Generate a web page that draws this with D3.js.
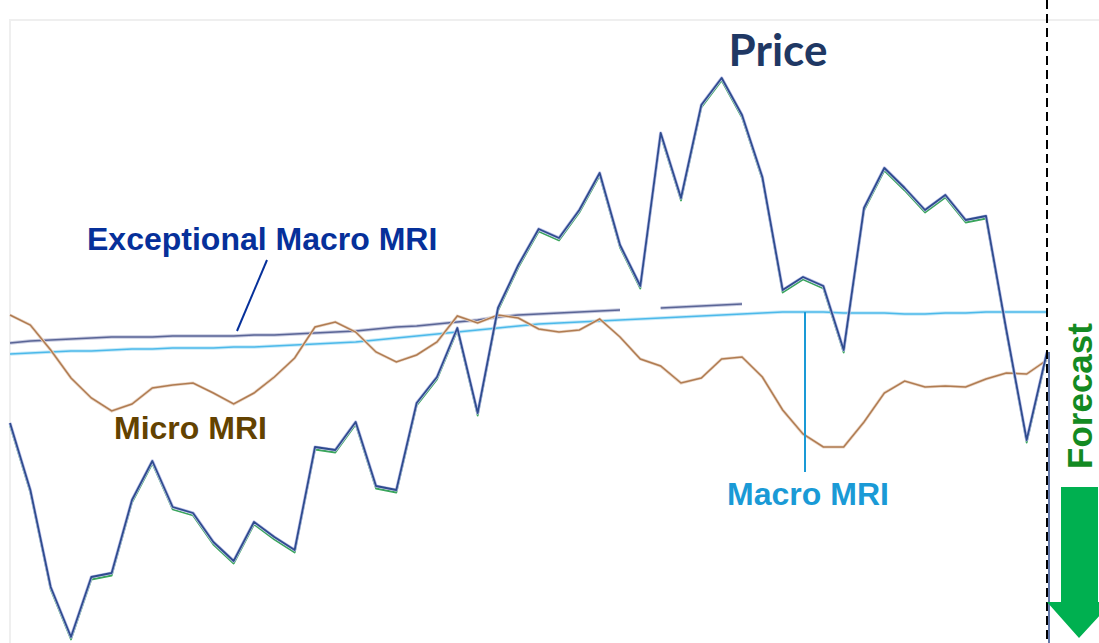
<!DOCTYPE html>
<html>
<head>
<meta charset="utf-8">
<title>Price and MRI</title>
<script src="https://d3js.org/d3.v7.min.js"></script>
<style>
  body { margin: 0; background: #fff; }
  svg { display: block; }
</style>
</head>
<body>
<div id="chart"></div>
<script>
// values, one per period (52 periods)
const price = [217,150,53,3,63,67,140,179,133,127,98,79,118,103,90,193,190,218,154,150,
  237,263,312,227,332,375,411,402,430,467,395,354,507,442,535,562,525,463,350,363,
  354,290,432,472,452,430,445,420,424,310,200,288];
const microMRI = [325,315,290,262,242,229,236,252,255,257,247,236,247,263,282,313,318,308,288,278,
  285,298,324,317,325,322,311,308,310,321,303,281,274,257,262,281,283,263,230,206,
  193,193,218,247,259,253,254,253,261,267,266,280];
const macroMRI = [286,287,288,289,289,290,291,291,292,292,292,293,293,294,295,296,297,298,300,302,
  304,306,308,310,312,314,316,317,318,319,320,321,322,323,324,325,326,327,328,328,
  328,327,327,327,326,326,327,327,328,328,328,328];
const exceptionalMRI = [297,299,300,301,302,303,303,303,304,304,304,304,305,305,306,307,308,309,311,313,
  314,316,318,320,323,325,326,327,328,329,330,null,332,333,334,335,336];
const forecastAt = 51;
const macroMarkAt = 39;

const W = 1099, H = 643;
const svg = d3.select("#chart").append("svg")
    .attr("width", W).attr("height", H);

const x = d3.scaleLinear().domain([0, 51]).range([10, 1047]);
const y = d3.scaleLinear().domain([0, 620]).range([640, 20]);

// faint plot frame
svg.append("path")
    .attr("d", "M10," + H + "V20H" + W)
    .attr("fill", "none")
    .attr("stroke", "#efefef")
    .attr("stroke-width", 2);

const line = d3.line()
    .defined(d => d != null)
    .x((d, i) => x(i))
    .y(d => y(d));

// Macro MRI
svg.append("path").datum(macroMRI)
    .attr("d", line).attr("fill", "none")
    .attr("stroke", "#c8eaf8").attr("stroke-width", 3.5);
svg.append("path").datum(macroMRI)
    .attr("d", line).attr("fill", "none")
    .attr("stroke", "#4cb9ea").attr("stroke-width", 1.5);

// Exceptional Macro MRI
svg.append("path").datum(exceptionalMRI)
    .attr("d", line).attr("fill", "none")
    .attr("stroke", "#c8cbe0").attr("stroke-width", 3.5);
svg.append("path").datum(exceptionalMRI)
    .attr("d", line).attr("fill", "none")
    .attr("stroke", "#5a6596").attr("stroke-width", 1.4);

// Micro MRI
svg.append("path").datum(microMRI)
    .attr("d", line).attr("fill", "none")
    .attr("stroke", "#ead6c6").attr("stroke-width", 3);
svg.append("path").datum(microMRI)
    .attr("d", line).attr("fill", "none")
    .attr("stroke", "#b07c52").attr("stroke-width", 1.5);

// Price: green shadow under a navy line with a lavender halo
svg.append("path").datum(price)
    .attr("d", line).attr("fill", "none")
    .attr("transform", "translate(0,2.5)")
    .attr("stroke", "#3aa55c").attr("stroke-width", 1.8)
    .attr("stroke-linejoin", "round");
svg.append("path").datum(price)
    .attr("d", line).attr("fill", "none")
    .attr("stroke", "#bcc0ea").attr("stroke-width", 3.2)
    .attr("stroke-linejoin", "round");
svg.append("path").datum(price)
    .attr("d", line).attr("fill", "none")
    .attr("stroke", "#2f4c8e").attr("stroke-width", 1.8)
    .attr("stroke-linejoin", "round");

// navy drop beside the forecast divider
svg.append("line")
    .attr("x1", x(forecastAt) + 2).attr("x2", x(forecastAt) + 2)
    .attr("y1", y(price[forecastAt])).attr("y2", H)
    .attr("stroke", "#2f4c8e").attr("stroke-width", 1.5);

// forecast divider
svg.append("line")
    .attr("x1", x(forecastAt)).attr("x2", x(forecastAt))
    .attr("y1", 0).attr("y2", H)
    .attr("stroke", "#000").attr("stroke-width", 2)
    .attr("stroke-dasharray", "9,5");

// forecast arrow
svg.append("polygon")
    .attr("points", [[1061, 487], [1098, 487], [1098, 602], [1112, 602], [1079, 638], [1047, 602], [1061, 602]].join(" "))
    .attr("fill", "#00b050");

svg.append("text")
    .attr("transform", "translate(1092,396) rotate(-90)")
    .attr("text-anchor", "middle")
    .attr("font-family", "Liberation Sans, Arial, sans-serif")
    .attr("font-weight", "bold")
    .attr("font-size", "35px")
    .attr("fill", "#138a22")
    .text("Forecast");

// labels
svg.append("text")
    .attr("x", 778).attr("y", 66)
    .attr("text-anchor", "middle")
    .attr("font-family", "Lato, sans-serif")
    .attr("font-weight", "bold")
    .attr("font-size", "44px")
    .attr("fill", "#1f3864")
    .text("Price");

svg.append("text")
    .attr("x", 87).attr("y", 250)
    .attr("font-family", "Liberation Sans, Arial, sans-serif")
    .attr("font-weight", "bold")
    .attr("font-size", "32px")
    .attr("fill", "#06309a")
    .text("Exceptional Macro MRI");

svg.append("line")
    .attr("x1", 267).attr("y1", 260)
    .attr("x2", 237).attr("y2", 331)
    .attr("stroke", "#06309a").attr("stroke-width", 2);

svg.append("text")
    .attr("x", 114).attr("y", 439)
    .attr("font-family", "Liberation Sans, Arial, sans-serif")
    .attr("font-weight", "bold")
    .attr("font-size", "32px")
    .attr("fill", "#634200")
    .text("Micro MRI");

svg.append("line")
    .attr("x1", x(macroMarkAt) + 2).attr("x2", x(macroMarkAt) + 2)
    .attr("y1", y(macroMRI[macroMarkAt])).attr("y2", 472)
    .attr("stroke", "#1a9ad6").attr("stroke-width", 2);

svg.append("text")
    .attr("x", 808).attr("y", 505)
    .attr("text-anchor", "middle")
    .attr("font-family", "Liberation Sans, Arial, sans-serif")
    .attr("font-weight", "bold")
    .attr("font-size", "32px")
    .attr("fill", "#1a9ad6")
    .text("Macro MRI");
</script>
</body>
</html>
